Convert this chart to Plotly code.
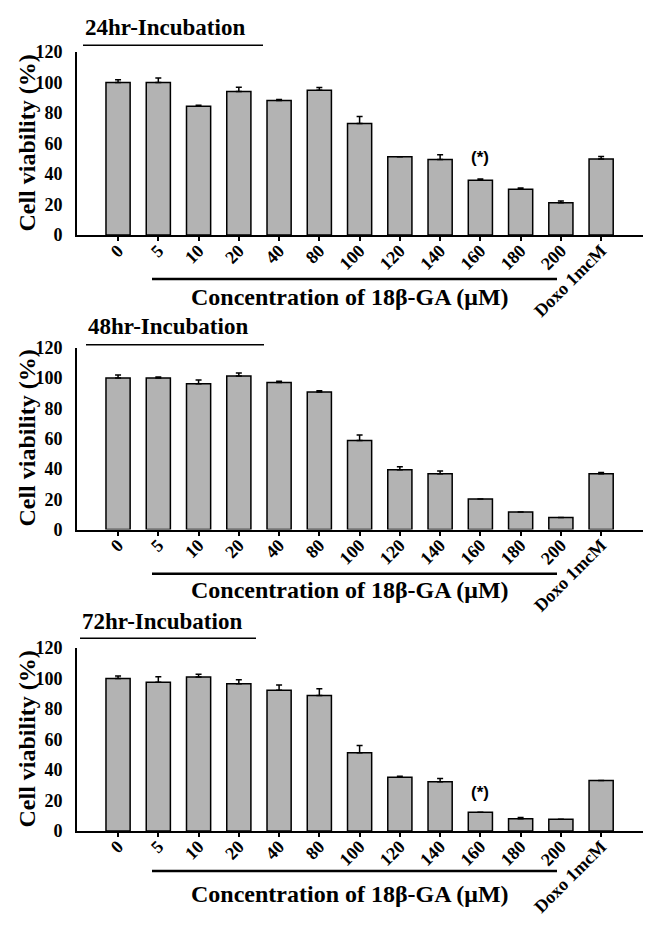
import plotly.graph_objects as go

W, H = 648, 931

categories = ["0", "5", "10", "20", "40", "80", "100", "120", "140", "160", "180", "200", "Doxo 1mcM"]
panel_titles = ["24hr-Incubation", "48hr-Incubation", "72hr-Incubation"]

via_24 = [100, 100, 84.5, 94.1, 88.2, 95.0, 73.2, 51.3, 49.6, 35.9, 30.0, 21.2, 49.9]
err_24 = [1.9, 3.0, 0.6, 2.8, 0.7, 1.7, 4.6, 0.0, 3.0, 0.8, 0.8, 1.1, 1.6]

via_48 = [100, 100, 96.1, 101.3, 97.0, 90.7, 58.7, 39.4, 36.8, 20.2, 11.6, 8.0, 36.8]
err_48 = [1.9, 0.6, 2.6, 1.9, 0.8, 0.8, 3.7, 2.1, 1.9, 0.0, 0.0, 0.0, 0.8]

via_72 = [100, 97.5, 100.9, 96.6, 92.3, 88.9, 51.3, 35.2, 32.2, 12.2, 8.0, 7.7, 33.1]
err_72 = [1.7, 3.6, 1.9, 2.6, 3.4, 4.3, 4.7, 0.7, 2.2, 0.0, 0.8, 0.0, 0.0]

# significance marks: (panel index, category index, y position)
sig_marks = [(0, 9, 51), (2, 9, 25)]

x_title = "Concentration of 18\u03b2-GA (\u03bcM)"
y_title = "Cell viability (%)"

series = [(via_24, err_24), (via_48, err_48), (via_72, err_72)]

# pixel layout (top, bottom of plot area) for each panel
panel_px = [(43, 230), (345, 531), (652, 839)]
title_px = [(83, 18, 36, 263), (86, 323, 342, 264), (80, 625, 642, 256)]
xline_px = [275, 576, 880]
xtitle_px = [293, 593, 903]

SERIF = "Liberation Serif, Times New Roman, serif"
x_left, x_right = 77, 643

fig = go.Figure()
xs = list(range(len(categories)))

for i, (vals, errs) in enumerate(series):
    xa = "x" if i == 0 else f"x{i+1}"
    ya = "y" if i == 0 else f"y{i+1}"
    fig.add_trace(go.Bar(
        x=xs, y=vals, xaxis=xa, yaxis=ya,
        width=0.6,
        marker=dict(color="#b3b3b3", line=dict(color="black", width=1.5)),
        error_y=dict(type="data", array=errs, arrayminus=[0] * len(errs),
                     symmetric=False, color="black", thickness=1.5, width=3),
        showlegend=False,
    ))

layout = dict(
    width=W, height=H,
    margin=dict(l=0, r=0, t=0, b=0),
    plot_bgcolor="white", paper_bgcolor="white",
    bargap=0.4,
    annotations=[], shapes=[],
)

for i in range(3):
    top, bot = panel_px[i]
    xk = "xaxis" if i == 0 else f"xaxis{i+1}"
    yk = "yaxis" if i == 0 else f"yaxis{i+1}"
    ya = "y" if i == 0 else f"y{i+1}"
    xa = "x" if i == 0 else f"x{i+1}"
    layout[xk] = dict(
        domain=[x_left / W, x_right / W],
        anchor=ya,
        range=[-1.02, 13.04],
        tickmode="array", tickvals=xs, ticktext=categories,
        tickangle=-45, ticklabelstandoff=-8,
        ticks="outside", ticklen=4, tickwidth=2, tickcolor="black",
        showline=True, linecolor="black", linewidth=2,
        showgrid=False, zeroline=False,
        tickfont=dict(family=SERIF, size=18, color="black", weight="bold"),
    )
    layout[yk] = dict(
        domain=[1 - bot / H, 1 - top / H],
        anchor=xa,
        range=[0, 120],
        tickmode="array", tickvals=[0, 20, 40, 60, 80, 100, 120],
        ticks="", ticklabelstandoff=9,
        showline=True, linecolor="black", linewidth=2,
        showgrid=False, zeroline=False,
        tickfont=dict(family=SERIF, size=18, color="black", weight="bold"),
    )
    # panel title + underline
    tx, ty, uy, ux2 = title_px[i]
    layout["annotations"].append(dict(
        text=panel_titles[i], xref="paper", yref="paper",
        x=tx / W, y=1 - ty / H, xanchor="left", yanchor="middle", showarrow=False,
        font=dict(family=SERIF, size=23, color="black", weight="bold"),
    ))
    layout["shapes"].append(dict(
        type="line", xref="paper", yref="paper",
        x0=tx / W, x1=ux2 / W, y0=1 - uy / H, y1=1 - uy / H,
        line=dict(color="black", width=1.5),
    ))
    # y title
    layout["annotations"].append(dict(
        text=y_title, xref="paper", yref="paper",
        x=27 / W, y=1 - (top + bot) / 2 / H, xanchor="center", yanchor="middle",
        textangle=-90, showarrow=False,
        font=dict(family=SERIF, size=24, color="black", weight="bold"),
    ))
    # line under tick labels + x title
    layout["shapes"].append(dict(
        type="line", xref="paper", yref="paper",
        x0=152 / W, x1=557 / W, y0=1 - xline_px[i] / H, y1=1 - xline_px[i] / H,
        line=dict(color="black", width=2.5),
    ))
    layout["annotations"].append(dict(
        text=x_title, xref="paper", yref="paper",
        x=350 / W, y=1 - xtitle_px[i] / H, xanchor="center", yanchor="middle",
        showarrow=False,
        font=dict(family=SERIF, size=24, color="black", weight="bold"),
    ))

for (p, ci, yv) in sig_marks:
    xa = "x" if p == 0 else f"x{p+1}"
    ya = "y" if p == 0 else f"y{p+1}"
    layout["annotations"].append(dict(
        text="(*)", xref=xa, yref=ya, x=xs[ci], y=yv,
        xanchor="center", yanchor="middle", showarrow=False,
        font=dict(family="Liberation Sans, Arial, sans-serif", size=17, color="black", weight="bold"),
    ))

fig.update_layout(**layout)
fig.write_html("out.html", config={"displayModeBar": False},
               post_script="document.body.style.margin='0';")
